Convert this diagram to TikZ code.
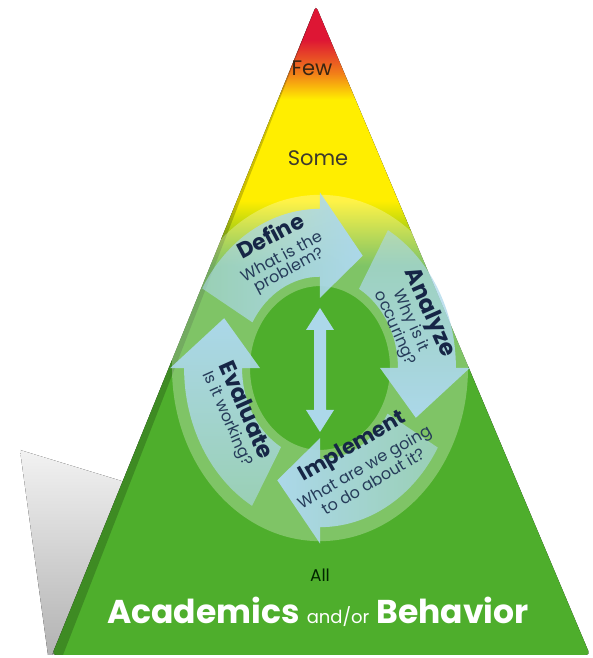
\documentclass[tikz,border=0pt]{standalone}
\usepackage{fontspec}
\setmainfont{Poppins}
\usetikzlibrary{fadings}
\definecolor{pyrgreen}{RGB}{78,174,44}
\definecolor{pyryellow}{RGB}{255,238,0}
\definecolor{pyrorange}{RGB}{242,128,24}
\definecolor{pyrred}{RGB}{222,22,52}
\definecolor{arrowblue}{RGB}{172,216,234}
\definecolor{stagenavy}{RGB}{22,38,70}
\definecolor{notenavy}{RGB}{38,60,90}
\pgfdeclareverticalshading{pyramid}{100bp}{color(0bp)=(pyrgreen); color(55bp)=(pyrgreen); color(60bp)=(pyryellow); color(67.8bp)=(pyryellow); color(69.8bp)=(pyrorange); color(72.4bp)=(pyrred); color(100bp)=(pyrred)}
\tikzfading[name=tailfade, left color=transparent!40, right color=transparent!0]

\begin{document}
\begin{tikzpicture}[x=1pt,y=1pt,
  tier/.style={font=\fontsize{#1}{#1}\selectfont},
  stagehead/.style={text=stagenavy, font=\bfseries\fontsize{#1}{#1}\selectfont, inner sep=0},
  stagenote/.style={text=notenavy, font=\fontsize{#1}{15}\selectfont, align=center, inner sep=0}]
\useasboundingbox (0,0) rectangle (592,658);
\fill[top color=gray!10, bottom color=gray!60] (20,208) -- (125,176) -- (52,3) -- (48,3) -- cycle;
\fill[shading=pyramid, rounded corners=4pt] (52,3) -- (316,652) -- (590,3) -- cycle;
\fill[black, opacity=0.2] (52,3) -- (316,652) -- (63,3) -- cycle;
\begin{scope}[shift={(320,290)}, yscale=1.17]
\fill[white, opacity=0.28, even odd rule] (0,0) circle[radius=148] (0,0) circle[radius=70];
\foreach \a/\f in {150/0, 60/-90, -30/180, -120/90}
  \fill[arrowblue, path fading=tailfade, fading angle=\f]
    (\a:78) arc[start angle=\a, delta angle=-60, radius=78]
    -- ({\a-60}:60) -- ({\a-84}:105) -- ({\a-60}:150) -- ({\a-60}:136)
    arc[start angle={\a-60}, delta angle=60, radius=136] -- cycle;
\end{scope}
\coordinate (up) at (320,350);
\coordinate (down) at (320,226);
\fill[arrowblue] (up) -- ++(14,-22) -- ++(-8,0) -- ([xshift=6,yshift=22]down) -- ++(8,0) -- (down)
  -- ++(-14,22) -- ++(8,0) -- ([xshift=-6,yshift=-22]up) -- ++(-8,0) -- cycle;
\node[tier=21, text=black!70!brown] (few) at (312,590) {Few};
\node[tier=21, text=black!75!olive] (some) at (318,500) {Some};
\node[tier=17, text=black!85!green] (all) at (320,83) {All};
\node[text=white, font=\bfseries\fontsize{33}{33}\selectfont] (base) at (318,46)
  {Academics {\mdseries\fontsize{18}{18}\selectfont and/or} Behavior};
\node[stagehead=22, rotate=28] (define) at (270,423) {Define};
\node[stagenote=16, rotate=28] (definenote) at ([shift={(-62:33)}]define.center) {What is the\\problem?};
\node[stagehead=23, rotate=-66] (analyze) at (429,345) {Analyze};
\node[stagenote=16, rotate=-66] (analyzenote) at ([shift={(-156:29)}]analyze.center) {Why is it\\occuring?};
\node[stagehead=21, rotate=30] (implement) at (353,211) {Implement};
\node[stagenote=16, rotate=30] (implementnote) at ([shift={(-60:31)}]implement.center) {What are we going\\to do about it?};
\node[stagehead=23, rotate=-66] (evaluate) at (247,248) {Evaluate};
\node[stagenote=16, rotate=-66] (evaluatenote) at ([shift={(-156:22)}]evaluate.center) {Is it working?};
\end{tikzpicture}
\end{document}
